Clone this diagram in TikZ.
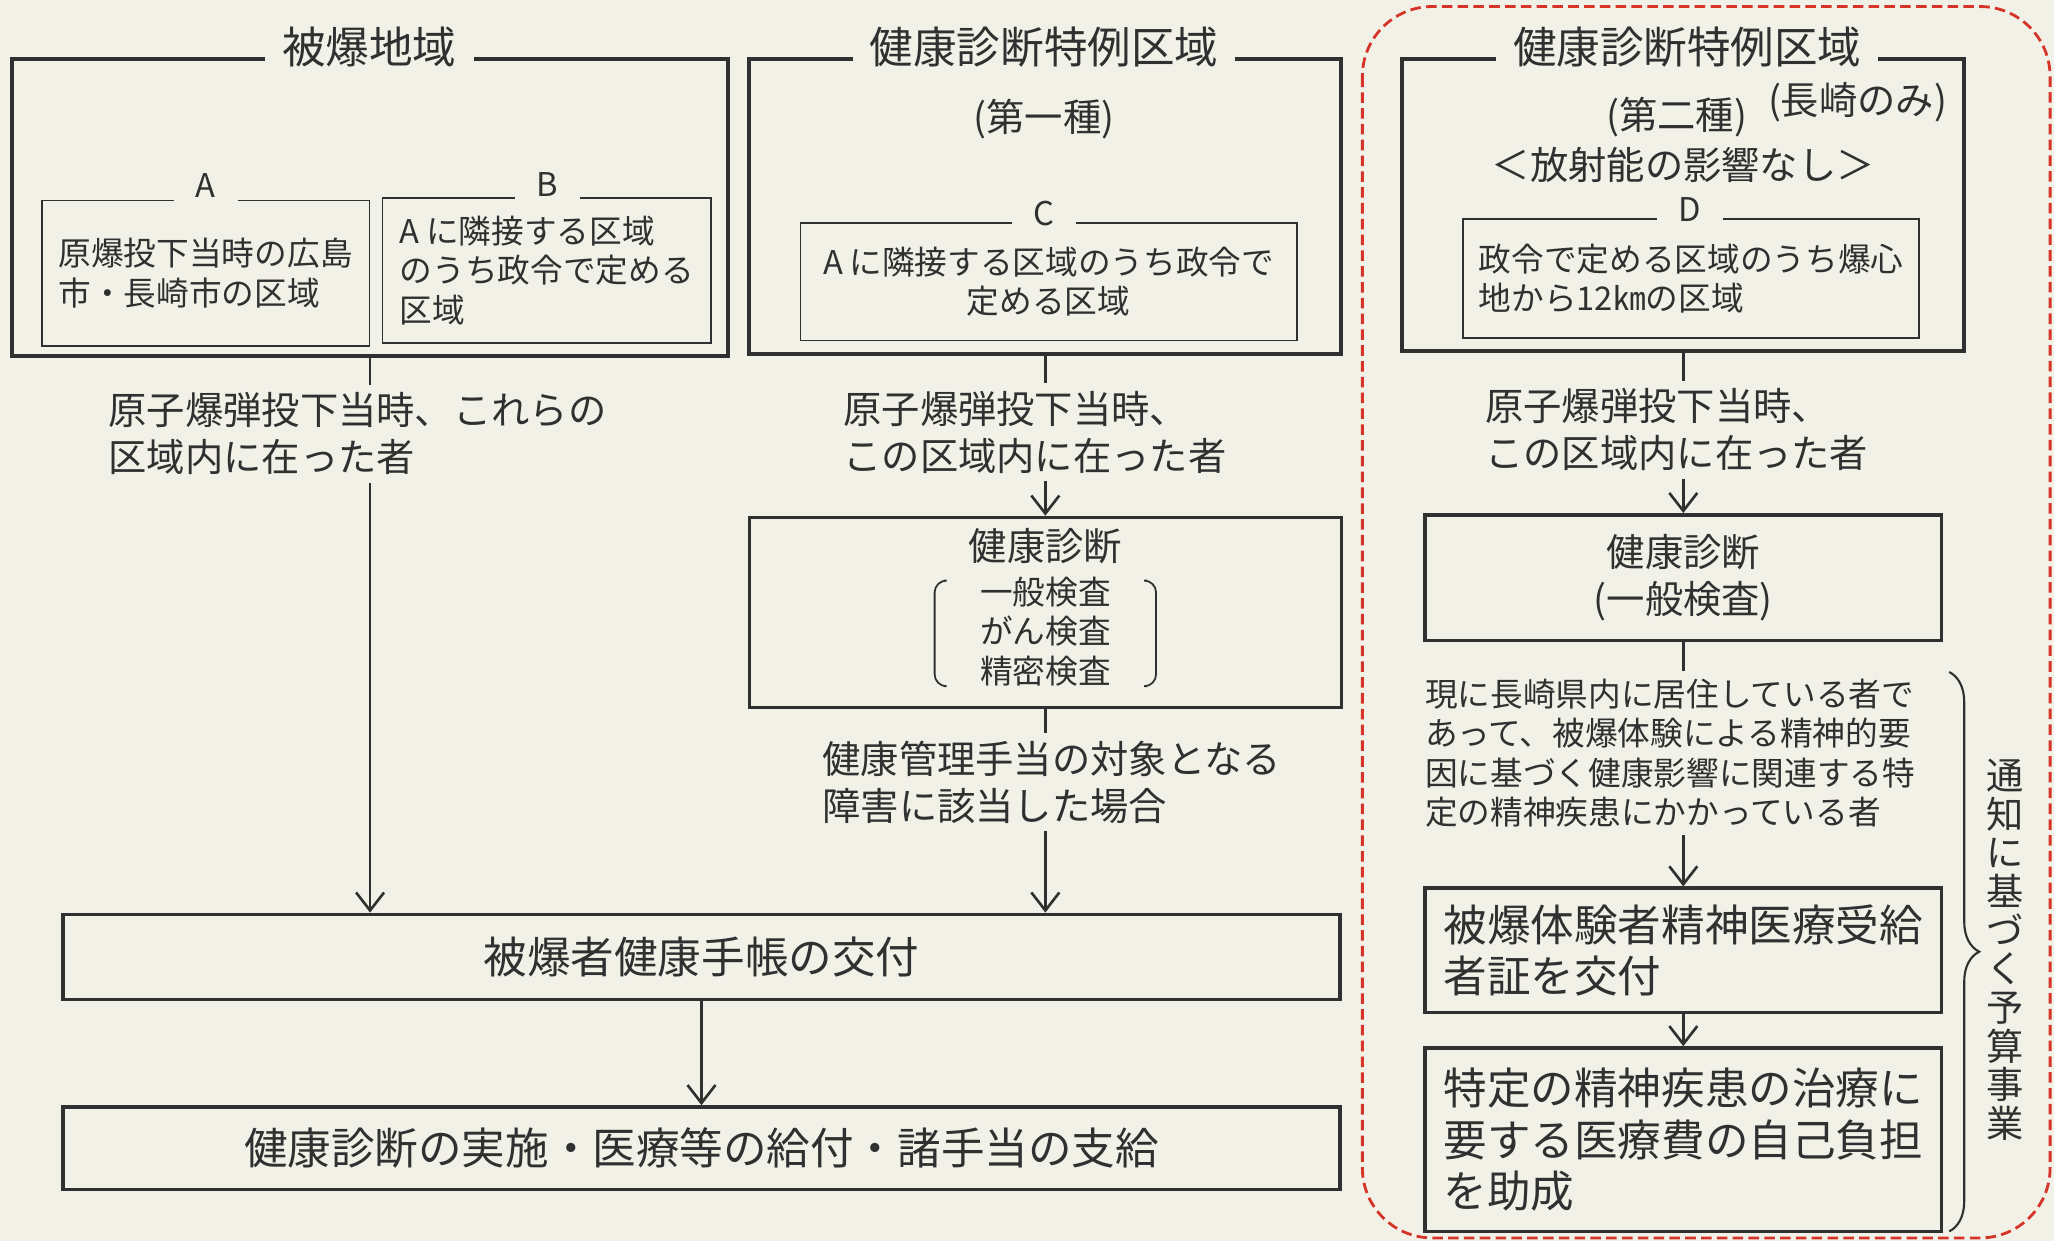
\documentclass[tikz,border=0pt]{standalone}
\usepackage{fontspec}
\setmainfont{Noto Sans CJK JP}
\usepackage{xcolor}
\usetikzlibrary{positioning,calc,arrows.meta,decorations.pathreplacing}

\definecolor{paper}{RGB}{242,241,232}
\definecolor{ink}{RGB}{48,48,48}
\definecolor{dashred}{RGB}{214,52,40}

\newcommand{\fsS}{\fontsize{9.3pt}{11.2pt}\selectfont}
\newcommand{\fsM}{\fontsize{10.9pt}{13.4pt}\selectfont}
\newcommand{\fsL}{\fontsize{12.4pt}{14.6pt}\selectfont}
\newcommand{\fsV}{\fontsize{10.6pt}{11pt}\selectfont}

\begin{document}
\begin{tikzpicture}[x=0.0131cm, y=-0.0131cm,
    sz/.style 2 args={minimum width=#1*0.0131cm, minimum height=#2*0.0131cm},
    frame/.style={draw=ink, line width=1.1pt, inner sep=0pt},
    area/.style={draw=ink, line width=0.5pt, inner sep=0pt, align=left, text=ink, font=\fsS},
    flowbox/.style={draw=ink, line width=1pt, inner sep=0pt, text=ink},
    title/.style={fill=paper, text=ink, inner xsep=0.17cm, inner ysep=1pt, font=\fsL},
    tag/.style={fill=paper, text=ink, inner xsep=0.22cm, inner ysep=2pt, font=\fsS},
    note/.style={text=ink, align=left, inner sep=2pt, font=\fsM},
    conn/.style={draw=ink, line width=0.75pt},
    arr/.style={conn, -{Straight Barb[length=1.8mm,width=2.8mm]}}
]
\useasboundingbox (0,0) rectangle (1568,947);
\fill[paper] (0,0) rectangle (1568,947);

% Hibaku chiiki
\node[frame, sz={547}{227}] (hibaku) at (282.5,158.5) {};
\node[title] (hibakuT) at (282,36) {被爆地域};
\node[area, sz={250}{111}] (areaA) at (157,208.5) {原爆投下当時の広島\\市・長崎市の区域};
\node[tag] (tagA) at (157,142) {A};
\node[area, sz={251}{111}] (areaB) at (417.5,206.5) {A\hspace{0.2em}に隣接する区域\\のうち政令で定める\\区域};
\node[tag] (tagB) at (418,141) {B};

% Tokurei kuiki, dai-isshu
\node[frame, sz={452}{225}] (tokurei1) at (798,157.5) {};
\node[title] (tokurei1T) at (797,36) {健康診断特例区域};
\node[note] (shu1) at (797,91) {(第一種)};
\node[area, align=center, sz={379}{90}] (areaC) at (800.5,215) {A\hspace{0.2em}に隣接する区域のうち政令で\\定める区域};
\node[tag] (tagC) at (797,163) {C};

% Tokurei kuiki, dai-nishu (Nagasaki)
\draw[dashred, line width=0.8pt, dash pattern=on 3pt off 1.5pt, rounded corners=0.7cm] (1040,5) rectangle (1565,945);
\node[frame, sz={429}{223}] (tokurei2) at (1285,156.5) {};
\node[title] (tokurei2T) at (1288,36) {健康診断特例区域};
\node[note] (shu2) at (1280,89) {(第二種)};
\node[note] (nagasaki) at (1418,78) {(長崎のみ)};
\node[note] (eikyo) at (1285,126) {＜放射能の影響なし＞};
\node[area, sz={348}{91}] (areaD) at (1291,212.5) {政令で定める区域のうち爆心\\地から12㎞の区域};
\node[tag] (tagD) at (1290,160) {D};

% Conditions
\node[note, anchor=west] (zai1) at (77,331) {原子爆弾投下当時、これらの\\区域内に在った者};
\node[note, anchor=west] (zai2) at (638,330) {原子爆弾投下当時、\\この区域内に在った者};
\node[note, anchor=west] (zai3) at (1128,328) {原子爆弾投下当時、\\この区域内に在った者};

% Kenko shindan
\node[flowbox, sz={452}{145}] (kenshin) at (798,467.5) {};
\node[text=ink, font=\fsM] (kenshinT) at (798,417) {健康診断};
\node[text=ink, font=\fsS, align=center] (kenshinL) at (798,482) {一般検査\\がん検査\\精密検査};
\draw[ink, line width=0.5pt, rounded corners=0.12cm]
  ([xshift=-0.24cm,yshift=-0.16cm]kenshinL.north west) -| ([xshift=-0.33cm]kenshinL.west)
  |- ([xshift=-0.24cm,yshift=0.12cm]kenshinL.south west);
\draw[ink, line width=0.5pt, rounded corners=0.12cm]
  ([xshift=0.24cm,yshift=-0.16cm]kenshinL.north east) -| ([xshift=0.33cm]kenshinL.east)
  |- ([xshift=0.24cm,yshift=0.12cm]kenshinL.south east);
\node[note, anchor=west] (shogai) at (622,597) {健康管理手当の対象となる\\障害に該当した場合};

% Techo and kyufu
\node[flowbox, sz={975}{65}, font=\fsL] (techo) at (535.5,730.5) {被爆者健康手帳の交付};
\node[flowbox, sz={975}{63}, font=\fsL] (jisshi) at (535.5,876.5) {健康診断の実施・医療等の給付・諸手当の支給};

% Right column
\node[flowbox, sz={394}{96}, font=\fsM, align=center] (kenshin2) at (1285,441) {健康診断\\(一般検査)};
\node[note, anchor=west, font=\fsS] (kyoju) at (1082,575) {現に長崎県内に居住している者で\\あって、被爆体験による精神的要\\因に基づく健康影響に関連する特\\定の精神疾患にかかっている者};
\node[flowbox, sz={394}{95}, font=\fsL, align=left] (jukyu) at (1285,725.5) {被爆体験者精神医療受給\\者証を交付};
\node[flowbox, sz={394}{140}, font=\fsL, align=left] (josei) at (1285,870) {特定の精神疾患の治療に\\要する医療費の自己負担\\を助成};

% Brace
\draw[ink, line width=0.6pt, decorate, decoration={brace, amplitude=0.3cm}] (1488,513) -- (1488,940);
\node[text=ink, font=\fsV, align=center] (yosan) at (1531,725) {通\\知\\に\\基\\づ\\く\\予\\算\\事\\業};

% Flow
\draw[conn] (hibaku.south) -- (hibaku.south |- zai1.north);
\draw[arr] (hibaku.south |- zai1.south) -- (hibaku.south |- techo.north);
\draw[conn] (tokurei1.south) -- (tokurei1.south |- zai2.north);
\draw[arr] (tokurei1.south |- zai2.south) -- (kenshin.north);
\draw[conn] (kenshin.south) -- (kenshin.south |- shogai.north);
\draw[arr] (kenshin.south |- shogai.south) -- (kenshin.south |- techo.north);
\draw[arr] (techo.south) -- (jisshi.north);
\draw[conn] (tokurei2.south) -- (tokurei2.south |- zai3.north);
\draw[arr] (tokurei2.south |- zai3.south) -- (kenshin2.north);
\draw[conn] (kenshin2.south) -- (kenshin2.south |- kyoju.north);
\draw[arr] (kenshin2.south |- kyoju.south) -- (jukyu.north);
\draw[arr] (jukyu.south) -- (josei.north);
\end{tikzpicture}
\end{document}
